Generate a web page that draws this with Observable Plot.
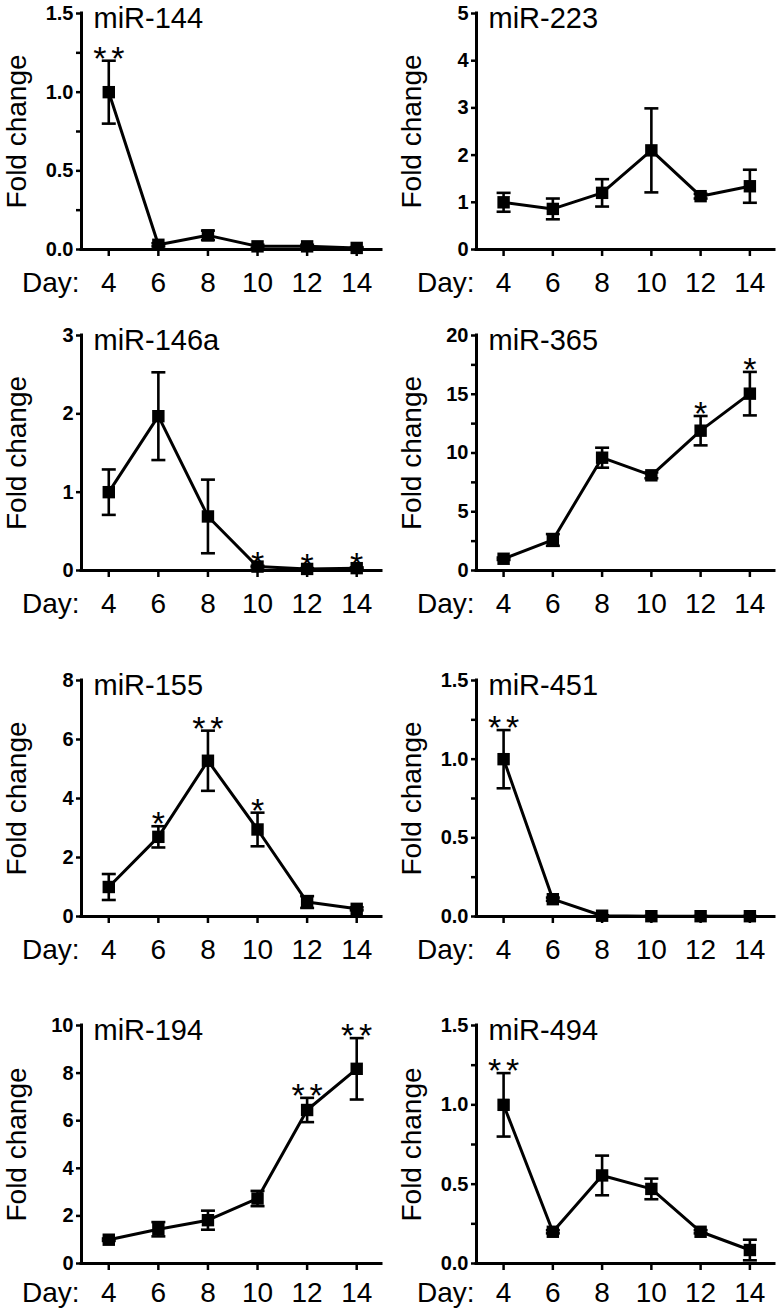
<!DOCTYPE html>
<html><head><meta charset="utf-8">
<script src="https://cdn.jsdelivr.net/npm/d3@7"></script>
<script src="https://cdn.jsdelivr.net/npm/@observablehq/plot@0.6"></script>
<style>
html,body{margin:0;padding:0;background:#fff;overflow:hidden;}
#fig{position:relative;width:780px;height:1309px;overflow:hidden;}
#fig svg{position:absolute;font-family:"Liberation Sans",Arial,sans-serif;color:#000;background:transparent;}
</style></head><body><div id="fig"></div>
<script>
// ---- data ----
const days = [4, 6, 8, 10, 12, 14];
const titles = ["miR-144", "miR-223", "miR-146a", "miR-365", "miR-155", "miR-451", "miR-194", "miR-494"];
const yMax  = [1.5, 5, 3, 20, 8, 1.5, 10, 1.5];
const yStep = [0.5, 1, 1, 5, 2, 0.5, 2, 0.5];
const yMinor = [true, false, false, true, false, true, false, true];

const mean144 = [1.0, 0.03, 0.09, 0.02, 0.02, 0.01];
const sem144  = [0.2, 0.01, 0.03, 0.01, 0.01, 0.005];
const sig144  = ["**", "", "", "", "", ""];

const mean223 = [1.0, 0.86, 1.2, 2.1, 1.13, 1.34];
const sem223  = [0.2, 0.22, 0.29, 0.89, 0.05, 0.35];
const sig223  = ["", "", "", "", "", ""];

const mean146a = [1.0, 1.97, 0.69, 0.05, 0.02, 0.03];
const sem146a  = [0.29, 0.56, 0.47, 0.01, 0.01, 0.01];
const sig146a  = ["", "", "", "*", "*", "*"];

const mean365 = [1.0, 2.6, 9.6, 8.1, 11.9, 15.05];
const sem365  = [0.1, 0.5, 0.85, 0.25, 1.25, 1.85];
const sig365  = ["", "", "", "", "*", "*"];

const mean155 = [1.0, 2.7, 5.28, 2.95, 0.49, 0.26];
const sem155  = [0.44, 0.36, 1.02, 0.57, 0.2, 0.05];
const sig155  = ["", "*", "**", "*", "", ""];

const mean451 = [1.0, 0.11, 0.005, 0.002, 0.002, 0.002];
const sem451  = [0.185, 0.01, 0.003, 0.001, 0.001, 0.001];
const sig451  = ["**", "", "", "", "", ""];

const mean194 = [1.0, 1.44, 1.82, 2.73, 6.45, 8.18];
const sem194  = [0.05, 0.3, 0.4, 0.32, 0.51, 1.29];
const sig194  = ["", "", "", "", "**", "**"];

const mean494 = [1.0, 0.2, 0.555, 0.47, 0.2, 0.085];
const sem494  = [0.2, 0.01, 0.125, 0.065, 0.01, 0.065];
const sig494  = ["**", "", "", "", "", ""];

const means = [mean144, mean223, mean146a, mean365, mean155, mean451, mean194, mean494];
const sems  = [sem144, sem223, sem146a, sem365, sem155, sem451, sem194, sem494];
const sigs  = [sig144, sig223, sig146a, sig365, sig155, sig451, sig194, sig494];

// ---- layout ----
const xDomain = [2.9, 15];
const colLeft = [0, 390], colML = [81, 86], colMR = [9, 6];
const rowTop = [13, 335, 680, 1025], rowH = [236, 235, 236, 238];
const rowLabelShift = [0, 0, 0, -4];
const rowMB = [62, 62, 62, 46];
const MT = 40;

const capSymbol = {
  draw(ctx, size) { const w = Math.sqrt(size / Math.PI); ctx.moveTo(-w, 0); ctx.lineTo(w, 0); }
};

const fig = document.getElementById("fig");

titles.forEach((title, i) => {
  const row = Math.floor(i / 2), col = i % 2;
  const data = days.map((day, k) => ({day, mean: means[i][k], sem: sems[i][k], sig: sigs[i][k]}));
  const single = data.filter(d => d.sig === "*");
  const double = data.filter(d => d.sig === "**");
  const nMaj = Math.round(yMax[i] / yStep[i]);
  const majors = d3.range(nMaj + 1).map(k => +(k * yStep[i]).toFixed(3));
  const minors = yMinor[i] ? d3.range(nMaj).map(k => +((k + 0.5) * yStep[i]).toFixed(3)) : [];
  const fmt = yStep[i] < 1 ? d3.format(".1f") : d3.format("d");
  const h = rowH[row];
  const sh = rowLabelShift[row];
  const MB = rowMB[row];
  const starOpts = {x: "day", y: d => d.mean + d.sem, text: () => "*", dy: 9, lineAnchor: "bottom", fontSize: 34};
  const svg = Plot.plot({
    width: 390,
    height: MT + h + MB,
    marginTop: MT, marginBottom: MB, marginLeft: colML[col], marginRight: colMR[col],
    x: {domain: xDomain},
    y: {domain: [0, yMax[i]]},
    marks: [
      Plot.ruleY([0], {strokeWidth: 3, strokeLinecap: "square"}),
      Plot.ruleX([xDomain[0]], {strokeWidth: 3, strokeLinecap: "square"}),
      Plot.axisY({ticks: majors.concat(minors), tickSize: 5, tickFormat: () => "", strokeWidth: 2.5, label: null}),
      Plot.text(majors, {x: () => xDomain[0], y: d => d, text: fmt, textAnchor: "end", lineAnchor: "middle", dx: -8, fontSize: 20, fontWeight: "bold"}),
      Plot.axisX({ticks: days, tickSize: 7, tickPadding: 16 + sh, fontSize: 28, strokeWidth: 2.5, label: null}),
      Plot.text(["Day:"], {frameAnchor: "bottom-left", dx: -2, dy: 34 + sh, textAnchor: "end", lineAnchor: "middle", fontSize: 28}),
      Plot.text(["Fold change"], {frameAnchor: "left", dx: -64, rotate: -90, textAnchor: "middle", lineAnchor: "middle", fontSize: 28}),
      Plot.text([title], {frameAnchor: "top-left", dx: 12, dy: 14, textAnchor: "start", lineAnchor: "bottom", fontSize: 29}),
      Plot.line(data, {x: "day", y: "mean", stroke: "black", strokeWidth: 3}),
      Plot.ruleX(data, {x: "day", y1: d => d.mean - d.sem, y2: d => d.mean + d.sem, stroke: "black", strokeWidth: 2.6}),
      Plot.dot(data, {x: "day", y: d => d.mean + d.sem, symbol: capSymbol, r: 7, stroke: "black", fill: "none", strokeWidth: 2.6}),
      Plot.dot(data, {x: "day", y: d => d.mean - d.sem, symbol: capSymbol, r: 7, stroke: "black", fill: "none", strokeWidth: 2.6}),
      Plot.dot(data, {x: "day", y: "mean", symbol: "square", r: 7, fill: "black", stroke: "none"}),
      Plot.text(single, {...starOpts}),
      Plot.text(double, {...starOpts, dx: -9}),
      Plot.text(double, {...starOpts, dx: 9})
    ]
  });
  svg.style.left = colLeft[col] + "px";
  svg.style.top = (rowTop[row] - MT) + "px";
  fig.appendChild(svg);
});
</script>
</body></html>
